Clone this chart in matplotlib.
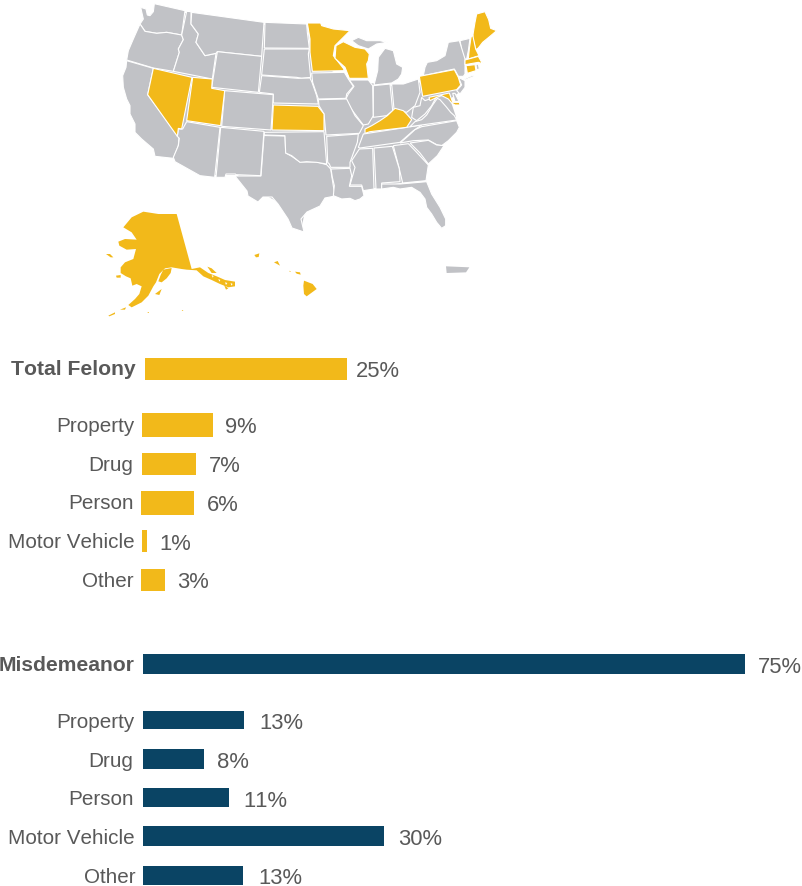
import matplotlib
matplotlib.use("Agg")
import matplotlib.pyplot as plt
from matplotlib.patches import Polygon

plt.rcParams['font.family'] = ['Liberation Sans', 'DejaVu Sans']
plt.rcParams['text.kerning_factor'] = 10

W, H = 802, 887
GOLD = '#F2B91A'
NAVY = '#0A4464'
GRAY = '#C1C2C6'
TEXT = '#595959'

# bar values, percent (label = printed figure, share = length)
felony_names = ['Total Felony', 'Property', 'Drug', 'Person', 'Motor Vehicle', 'Other']
felony_labels = ['25%', '9%', '7%', '6%', '1%', '3%']
felony_share = [25.2, 8.85, 6.73, 6.6, 0.62, 3.0]
misd_names = ['Misdemeanor', 'Property', 'Drug', 'Person', 'Motor Vehicle', 'Other']
misd_labels = ['75%', '13%', '8%', '11%', '30%', '13%']
misd_share = [75.0, 12.6, 7.6, 10.7, 30.0, 12.45]

# layout, pixels
felony_left = [145, 142, 142, 141, 142, 141]
felony_top = [358.5, 413.5, 453.5, 491.5, 530.5, 569.5]
felony_bot = [380.5, 437.5, 475.5, 515.5, 552.5, 591.5]
felony_name_r = [135.5, 134, 133.5, 133.5, 134.5, 133.5]
felony_name_y = [375, 432, 471, 509, 548, 587]
felony_val_x = [356, 225.5, 208.5, 206.5, 159.5, 177]
felony_val_y = [377, 433, 472, 511, 550, 588]
misd_left = [143.3] * 6
misd_top = [654.5, 711.5, 750, 789, 827.5, 867]
misd_bot = [675, 730, 770, 808, 847.5, 886]
misd_name_r = [134.5, 134, 133.5, 133.5, 134.5, 136]
misd_name_y = [671, 728, 767, 805, 844, 883]
misd_val_x = [758, 259.5, 217.5, 243.5, 398, 258]
misd_val_y = [673, 729, 768, 807, 845, 884]
PX_PER_PCT = 8.02

# state outlines at 3x, each group with its own origin
WEST = {
  'WA': [(133,14),(225,35),(215,108),(170,100),(140,103),(105,97),(90,75),(100,60),(92,25),(108,30),(112,48),(120,50),(130,38)],
  'OR': [(90,75),(105,97),(140,103),(170,100),(215,108),(220,122),(205,150),(208,160),(190,217),(130,207),(50,183),(55,155),(70,120)],
  'CA': [(50,185),(130,208),(113,287),(207,415),(205,440),(190,478),(135,472),(130,450),(95,420),(75,400),(75,375),(60,345),(60,320),(50,300),(40,265),(38,230),(48,205)],
  'ID': [(230,37),(243,38),(243,75),(265,105),(258,130),(285,170),(318,163),(307,240),(190,217),(208,160),(205,150),(220,122),(215,108)],
  'MT': [(245,40),(462,70),(455,172),(322,158),(318,163),(285,170),(258,130),(265,105),(243,75)],
  'WY': [(322,158),(455,172),(445,280),(305,265)],
  'CO': [(344,275),(490,287),(483,393),(335,382)],
  'AZ': [(230,368),(330,385),(314,535),(270,530),(195,488),(190,475),(205,440),(208,418),(202,412),(205,390),(218,390)],
  'NM': [(332,385),(462,397),(452,530),(378,527),(376,525),(348,525),(345,535),(318,535)],
  'ND': [(465,70),(590,75),(592,100),(598,148),(463,147)],
  'SD': [(463,150),(598,150),(595,165),(602,235),(575,238),(560,235),(455,228)],
  'NE': [(455,230),(565,238),(600,237),(606,250),(620,290),(625,315),(490,312),(490,285),(448,280)],
  'OK': [(463,400),(642,398),(650,495),(620,490),(590,488),(570,490),(545,470),(527,462),(525,410),(463,408)],
  # highlighted
  'NV': [(130,208),(246,235),(220,365),(215,390),(205,388),(202,412),(113,287)],
  'UT': [(248,235),(307,240),(305,268),(344,275),(332,380),(230,365)],
  'KS': [(490,318),(624,322),(642,345),(642,395),(486,393)],
}
EAST = {
  'IA': [(35,222),(133,220),(145,240),(160,262),(140,285),(138,298),(55,300),(38,250)],
  'IL': [(148,243),(205,243),(218,260),(220,350),(205,375),(190,378),(165,345),(135,305),(145,285),(162,262)],
  'IN': [(220,260),(270,255),(278,335),(260,350),(220,355)],
  'OH': [(275,255),(310,255),(355,240),(360,280),(345,320),(320,340),(282,330)],
  'MI': [(222,258),(233,215),(235,175),(255,148),(280,155),(285,175),(290,195),(308,205),(305,225),(295,240),(275,252)],
  'UP': [(155,125),(175,115),(200,125),(240,125),(262,130),(230,135),(205,150),(175,140)],
  'TN': [(175,445),(190,405),(320,385),(365,378),(340,395),(300,430),(180,447)],
  'VA': [(330,383),(345,368),(365,362),(380,348),(398,318),(412,298),(420,302),(440,325),(452,340),(463,350),(470,363),(350,380)],
  'WV': [(340,325),(360,320),(365,295),(375,305),(410,292),(395,320),(375,345),(350,365),(335,355)],
  'NC': [(300,432),(320,415),(345,392),(365,383),(470,365),(478,385),(470,400),(445,425),(425,440),(410,437),(385,423),(340,425)],
  'SC': [(330,432),(385,424),(410,438),(432,440),(412,470),(385,495),(360,462)],
  'GA': [(280,440),(325,434),(350,460),(385,498),(378,545),(308,552),(298,510)],
  'AL': [(222,447),(277,442),(298,510),(300,548),(245,552),(245,570),(228,570)],
  'MS': [(178,450),(218,448),(222,570),(190,575),(185,558),(150,558),(165,505),(155,485)],
  'AR': [(80,412),(175,405),(172,430),(150,490),(150,505),(92,505),(88,495),(83,490)],
  'LA': [(93,510),(150,508),(155,530),(148,562),(185,562),(192,590),(180,600),(165,605),(150,598),(125,600),(100,590),(103,560),(97,535)],
  'MO': [(55,302),(140,300),(165,350),(190,380),(178,403),(78,408),(72,345),(57,320)],
  'FL': [(245,555),(300,555),(380,548),(395,585),(420,625),(437,660),(437,680),(425,688),(410,670),(395,645),(380,625),(375,600),(360,580),(335,565),(300,570),(280,565),(245,570)],
  # highlighted
  'MN': [(22,72),(62,72),(65,80),(100,90),(150,95),(105,140),(100,170),(130,208),(133,215),(37,217),(30,160),(30,120)],
  'WI': [(108,140),(130,128),(165,145),(195,150),(208,165),(205,185),(200,195),(205,238),(148,238),(135,205),(105,178)],
  'KY': [(195,390),(215,380),(240,365),(262,350),(285,328),(310,335),(320,345),(335,362),(320,385),(210,398),(195,403)],
}
NORTHEAST = {
  'VT': [(150,125),(180,118),(175,155),(170,180),(160,180)],
  'NY': [(52,190),(80,185),(105,170),(115,130),(148,125),(165,180),(165,225),(160,232),(145,232),(133,210),(40,230),(45,205)],
  'LI': [(162,240),(190,228),(190,233),(165,243)],
  'RI': [(198,197),(205,195),(208,210),(200,212)],
  'NJ': [(145,235),(165,245),(165,265),(150,285),(140,275),(155,258)],
  'DE': [(128,283),(135,283),(147,307),(135,308)],
  # highlighted
  'ME': [(200,45),(225,38),(236,62),(242,88),(260,95),(240,112),(218,130),(205,147),(197,152),(188,115),(190,100),(195,70)],
  'NH': [(183,115),(188,108),(197,150),(207,170),(175,180),(178,150)],
  'MA': [(165,183),(205,172),(215,190),(220,195),(205,190),(165,197)],
  'CT': [(168,200),(195,197),(198,215),(172,223)],
  'PA': [(28,232),(133,212),(145,235),(152,258),(140,272),(38,292)],
  'MD': [(57,295),(118,282),(128,310),(148,310),(150,318),(135,318),(125,312),(115,300),(95,290),(80,295),(60,305)],
}
TEXAS = [(264,136.5),(285,137),(285.7,154),(291.7,157.3),(300,163),(316.7,163),(326.7,165.7),(330.7,170),(333,185),(335,197),(325,199),(320,207),(307,213),(301,220),(304,233),(292,229),(288,220),(278,205),(272,198),(263,198),(258,203),(248,197),(247,192),(235,177),(261,177)]
# inner land mass, keeps the odd gap between traced states gray
LAND = [(157,8),(185,14),(264,26),(307,28),(312,60),(345,80),(370,84),(392,87),(418,84),(453,74),(461,82),(461,92),(450,100),(456,118),(455,128),(443,139),(428,146),(425,165),(422,180),(400,184),(385,187),(364,191),(355,194),(340,194),(328,194),(305,211),(302,227),(293,224),(280,204),(263,195),(258,200),(238,176),(215,176),(178,158),(162,155),(147,138),(137,115),(127,85),(129,62),(143,25)]
INSETS = {
  'AK': [(130,38),(175,45),(230,45),(275,210),(300,205),(325,222),(350,232),(375,243),(405,248),(405,262),(385,265),(360,255),(335,243),(310,232),(290,214),(260,212),(245,210),(215,205),(195,208),(178,225),(168,250),(160,262),(145,290),(125,310),(95,325),(85,318),(105,300),(118,285),(125,262),(110,255),(97,260),(92,238),(78,232),(62,222),(62,205),(75,190),(100,180),(108,150),(80,152),(58,140),(55,128),(75,120),(110,122),(95,100),(70,85),(95,55)],
  'Kenai': [(190,212),(215,207),(212,222),(200,238),(185,250),(175,247),(182,228)],
  'Lawrence': [(18,165),(30,165),(40,175),(32,175)],
  'Nunivak': [(48,230),(62,228),(62,236),(50,236)],
  'Kodiak': [(165,285),(185,270),(178,288)],
  'Aleut1': [(25,350),(45,340),(45,345),(28,352)],
  'Aleut2': [(60,332),(78,325),(75,332)],
  'Pribilof': [(142,338),(146,338),(146,341)],
  'Attu': [(245,333),(250,333),(248,336)],
  'SE1': [(322,203),(335,208),(350,222),(335,222)],
  'SE3': [(372,258),(385,268),(378,272)],
  'Kauai': [(463,168),(478,163),(476,174),(468,175)],
  'Oahu': [(522,190),(533,186),(540,200)],
  'Maui': [(585,218),(600,220),(602,227),(590,224)],
  'Molokai': [(567,215),(573,218),(570,219)],
  'Hawaii': [(612,245),(638,255),(650,270),(620,292),(612,285),(610,260)],
}
# white flecks between the islands of the panhandle
SPECKS = [[(335,228),(341,231),(338,236)], [(355,240),(361,243),(358,248)], [(375,250),(382,252),(378,258)], [(392,252),(398,255),(394,260)]]
PUERTO_RICO = [(1038,202),(1108,205),(1098,220),(1040,222)]

HIGHLIGHT = ['NV', 'UT', 'KS', 'MN', 'WI', 'KY', 'ME', 'NH', 'MA', 'CT', 'PA', 'MD']


def crop(pts, x0, y0):
  return [(x0 + x / 3, y0 + y / 3) for x, y in pts]


fig = plt.figure(figsize=(W / 100, H / 100), dpi=100)
ax = fig.add_axes([0, 0, 1, 1])
ax.set_xlim(0, W)
ax.set_ylim(H, 0)
ax.axis('off')

# map
ax.add_patch(Polygon(LAND, closed=True, fc=GRAY, ec='none', zorder=0))
for group, x0, y0 in [(WEST, 110, 0), (EAST, 300, 0), (NORTHEAST, 410, 0)]:
  for name, pts in group.items():
    col = GOLD if name in HIGHLIGHT else GRAY
    ax.add_patch(Polygon(crop(pts, x0, y0), closed=True, fc=col, ec='white', lw=0.8, zorder=3 if name in HIGHLIGHT else 2))
ax.add_patch(Polygon(TEXAS, closed=True, fc=GRAY, ec='white', lw=0.8, zorder=1))
for name, pts in INSETS.items():
  ax.add_patch(Polygon(crop(pts, 100, 200), closed=True, fc=GOLD, ec='none'))
for pts in SPECKS:
  ax.add_patch(Polygon(crop(pts, 100, 200), closed=True, fc='white', ec='none', zorder=2))
ax.add_patch(Polygon(crop(PUERTO_RICO, 100, 200), closed=True, fc=GRAY, ec='none'))

# bars
bx = fig.add_axes([0, 0, 1, 1])
bx.set_xlim(0, W / PX_PER_PCT)
bx.set_ylim(H, 0)
bx.axis('off')
bx.patch.set_alpha(0)

rows = [
  (felony_names, felony_labels, felony_share, felony_left, felony_top, felony_bot, felony_name_r, felony_name_y, felony_val_x, felony_val_y, GOLD),
  (misd_names, misd_labels, misd_share, misd_left, misd_top, misd_bot, misd_name_r, misd_name_y, misd_val_x, misd_val_y, NAVY),
]
for names, labels, share, left, top, bot, name_r, name_y, val_x, val_y, col in rows:
  centers = [(t + b) / 2 for t, b in zip(top, bot)]
  heights = [b - t for t, b in zip(top, bot)]
  lefts = [l / PX_PER_PCT for l in left]
  bx.barh(centers, share, height=heights, left=lefts, color=col, linewidth=0)
  for i, name in enumerate(names):
    ax.text(name_r[i], name_y[i], name, ha='right', va='baseline', fontsize=15.2 if i == 0 else 14.9, color=TEXT,
            fontweight='bold' if i == 0 else 'normal', zorder=5)
    ax.text(val_x[i], val_y[i], labels[i], ha='left', va='baseline', fontsize=15.8, color=TEXT, zorder=5)

fig.savefig('out.png', dpi=100)
